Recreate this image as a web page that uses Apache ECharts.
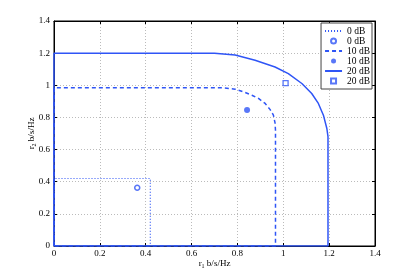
<!DOCTYPE html>
<html><head><meta charset="utf-8">
<script src="https://cdn.jsdelivr.net/npm/echarts@6/dist/echarts.min.js"></script>
<style>html,body{margin:0;padding:0;background:#fff}#c{width:415px;height:277px}</style>
</head><body><div id="c"></div>
<script>
const xTicks = [0, 0.2, 0.4, 0.6, 0.8, 1, 1.2, 1.4];
const yTicks = [0, 0.2, 0.4, 0.6, 0.8, 1, 1.2, 1.4];
const region0dB = [[0,0],[0,0.42],[0.42,0.42],[0.42,0],[0,0]];
const region10dB = [[0,0],[0,0.984],[0.74,0.984],[0.79,0.976],[0.834,0.955],[0.863,0.938],[0.892,0.918],[0.921,0.887],[0.942,0.85],[0.957,0.814],[0.964,0.766],[0.966,0.72],[0.966,0],[0,0]];
const region20dB = [[0,0],[0,1.2],[0.7,1.2],[0.79,1.188],[0.877,1.156],[0.964,1.114],[1.022,1.073],[1.081,1.011],[1.124,0.949],[1.153,0.887],[1.175,0.814],[1.19,0.731],[1.195,0.68],[1.195,0],[0,0]];
const point0dB = [[0.363,0.362]];
const point10dB = [[0.842,0.847]];
const point20dB = [[1.01,1.013]];
const seriesNames = ['0 dB', '0 dB', '10 dB', '10 dB', '20 dB', '20 dB'];

const blue = '#2f55f6';
const font = 'Liberation Serif';
const chart = echarts.init(document.getElementById('c'), null, {renderer:'canvas'});
const ids = ['l0','p0','l10','p10','l20','p20'];
const hide = {opacity:0, color:'rgba(0,0,0,0)', borderColor:'rgba(0,0,0,0)'};
const axisCommon = {
  type:'value', min:0, max:1.4, interval:0.2,
  axisLine:{show:true, onZero:false, lineStyle:{color:'#000', width:1}},
  axisTick:{show:true, inside:true, length:3, lineStyle:{color:'#000'}},
  splitLine:{show:false}
};
const nameRich = {a:{fontFamily:font,fontSize:9,color:'#000'},s:{fontFamily:font,fontSize:6,color:'#000',padding:[5,0,0,0]}};
chart.setOption({
  animation:false,
  backgroundColor:'#fff',
  grid:{left:54, right:40, top:21, bottom:31, show:true, borderColor:'#000', borderWidth:1},
  legend:{
    orient:'vertical', right:43, top:23,
    data:[
      {name:'l0', itemStyle:hide},
      {name:'p0'},
      {name:'l10', itemStyle:hide},
      {name:'p10'},
      {name:'l20', itemStyle:hide},
      {name:'p20', icon:'path://M0,0L10,0L10,10L0,10Z'}
    ],
    formatter:function(n){return seriesNames[ids.indexOf(n)];},
    backgroundColor:'#fff', borderColor:'#444', borderWidth:1,
    padding:[3,2,3,3], itemGap:0, itemWidth:17, itemHeight:5,
    textStyle:{fontFamily:font, fontSize:9.5, lineHeight:10, color:'#000'}
  },
  xAxis:[
    Object.assign({}, axisCommon, {position:'bottom',
      name:'{a|r}{s|1}{a| b/s/Hz}', nameLocation:'middle', nameGap:12, nameMoveOverlap:false,
      nameTextStyle:{rich:nameRich},
      axisLabel:{fontFamily:font, fontSize:9, color:'#000', margin:3,
        formatter:function(v){return String(xTicks.find(t=>Math.abs(t-v)<1e-6) ?? v);}},
      splitLine:{show:true, lineStyle:{color:'#bbb', type:[1,2], width:1}}}),
    Object.assign({}, axisCommon, {position:'top', axisLabel:{show:false}})
  ],
  yAxis:[
    Object.assign({}, axisCommon, {position:'left',
      name:'{a|r}{s|2}{a| b/s/Hz}', nameLocation:'middle', nameGap:17, nameRotate:90, nameMoveOverlap:false,
      nameTextStyle:{rich:nameRich},
      axisLabel:{fontFamily:font, fontSize:9, color:'#000', margin:4,
        formatter:function(v){return String(yTicks.find(t=>Math.abs(t-v)<1e-6) ?? v);}},
      splitLine:{show:true, lineStyle:{color:'#bbb', type:[1,2], width:1}}}),
    Object.assign({}, axisCommon, {position:'right', axisLabel:{show:false}})
  ],
  series:[
    {id:'l0', name:'l0', type:'line', data:region0dB, symbol:'none', lineStyle:{color:blue, width:1.2, type:[1,2]}, itemStyle:{color:blue}, z:3},
    {id:'p0', name:'p0', type:'scatter', data:point0dB, symbol:'circle', symbolSize:5, itemStyle:{color:'#fff', borderColor:blue, borderWidth:1.5}, z:4},
    {id:'l10', name:'l10', type:'line', data:region10dB, symbol:'none', lineStyle:{color:blue, width:1.5, type:[4,3]}, itemStyle:{color:blue}, z:3},
    {id:'p10', name:'p10', type:'scatter', data:point10dB, symbol:'circle', symbolSize:6, itemStyle:{color:blue}, z:4},
    {id:'l20', name:'l20', type:'line', data:region20dB, symbol:'none', lineStyle:{color:blue, width:1.5}, itemStyle:{color:blue}, z:3},
    {id:'p20', name:'p20', type:'scatter', data:point20dB, symbol:'rect', symbolSize:5, itemStyle:{color:'#fff', borderColor:blue, borderWidth:1.3}, z:4}
  ]
});
</script></body></html>
